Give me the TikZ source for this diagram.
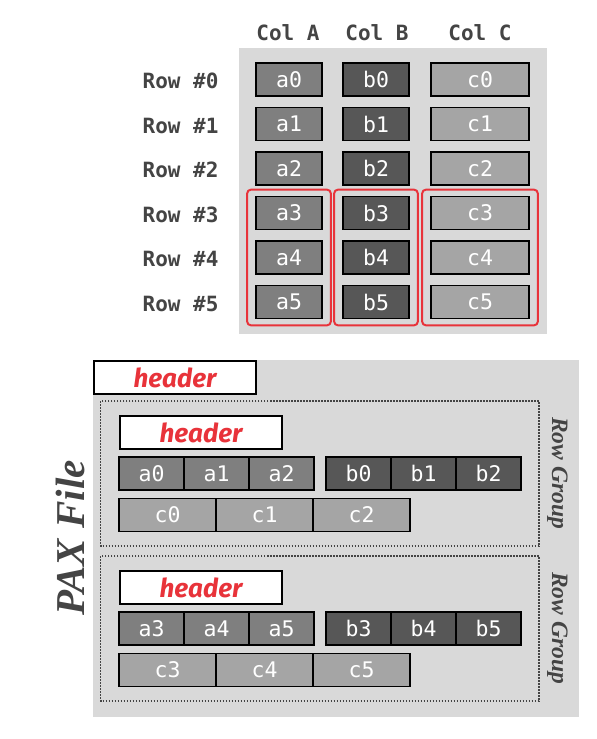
\documentclass[tikz,border=0pt]{standalone}
\usepackage{fontspec}
\setmainfont{Liberation Serif}
\newfontfamily\cellfont{DejaVu Sans Mono}
\newfontfamily\tagfont{Fira Sans}
\usepackage{tikz}
\definecolor{panelgray}{HTML}{D9D9D9}
\definecolor{colAgray}{HTML}{7F7F7F}
\definecolor{colBgray}{HTML}{575757}
\definecolor{colCgray}{HTML}{A5A5A5}
\definecolor{labelgray}{HTML}{444444}
\definecolor{hdrred}{HTML}{E8333A}
\tikzset{
  cellbox/.style={draw=black,line width=1.8pt,minimum height=33pt,inner sep=0pt,
    text=white,font=\cellfont\fontsize{21.5}{23}\selectfont},
  cellA/.style={cellbox,fill=colAgray,minimum width=65pt},
  cellB/.style={cellbox,fill=colBgray,minimum width=65pt},
  cellC/.style={cellbox,fill=colCgray,minimum width=97pt},
  rowlabel/.style={anchor=east,text=labelgray,font=\cellfont\bfseries\fontsize{21}{23}\selectfont},
  hdrbox/.style={draw=black,line width=2pt,fill=white,minimum width=162pt,minimum height=33pt,
    inner sep=0pt,text=hdrred,font=\tagfont\bfseries\itshape\fontsize{26}{28}\selectfont},
  redgroup/.style={draw=hdrred,line width=2pt,rounded corners=4pt},
  rowgroup/.style={draw=labelgray,line width=1.5pt,dash pattern=on 1.5pt off 1.5pt},
  sidelabel/.style={text=labelgray,font=\bfseries\itshape}
}
\begin{document}
\begin{tikzpicture}[x=1pt,y=-1pt]
  \useasboundingbox[fill=white] (0,0) rectangle (597,739);
  % Row layout
  \fill[panelgray] (239,48) rectangle (547,334);
  \node[text=labelgray,font=\cellfont\bfseries\fontsize{21}{23}\selectfont] (colA) at (288,33) {Col A};
  \node[text=labelgray,font=\cellfont\bfseries\fontsize{21}{23}\selectfont] (colB) at (377,33) {Col B};
  \node[text=labelgray,font=\cellfont\bfseries\fontsize{21}{23}\selectfont] (colC) at (480,33) {Col C};
  \node[rowlabel] (r0) at (222,81) {Row \#0};
  \node[rowlabel] (r1) at (222,125.5) {Row \#1};
  \node[rowlabel] (r2) at (222,170) {Row \#2};
  \node[rowlabel] (r3) at (222,214.5) {Row \#3};
  \node[rowlabel] (r4) at (222,259) {Row \#4};
  \node[rowlabel] (r5) at (222,303.5) {Row \#5};
  \node[cellA,minimum width=66pt] (a0) at (289,79.5) {a0};
  \node[cellA,minimum width=66pt] (a1) at (289,124) {a1};
  \node[cellA,minimum width=66pt] (a2) at (289,168.5) {a2};
  \node[cellA,minimum width=66pt] (a3) at (289,213) {a3};
  \node[cellA,minimum width=66pt] (a4) at (289,257.5) {a4};
  \node[cellA,minimum width=66pt] (a5) at (289,302) {a5};
  \node[cellB,minimum width=66pt] (b0) at (376,79.5) {b0};
  \node[cellB,minimum width=66pt] (b1) at (376,124) {b1};
  \node[cellB,minimum width=66pt] (b2) at (376,168.5) {b2};
  \node[cellB,minimum width=66pt] (b3) at (376,213) {b3};
  \node[cellB,minimum width=66pt] (b4) at (376,257.5) {b4};
  \node[cellB,minimum width=66pt] (b5) at (376,302) {b5};
  \node[cellC,minimum width=98pt] (c0) at (480,79.5) {c0};
  \node[cellC,minimum width=98pt] (c1) at (480,124) {c1};
  \node[cellC,minimum width=98pt] (c2) at (480,168.5) {c2};
  \node[cellC,minimum width=98pt] (c3) at (480,213) {c3};
  \node[cellC,minimum width=98pt] (c4) at (480,257.5) {c4};
  \node[cellC,minimum width=98pt] (c5) at (480,302) {c5};
  % Highlight rows 3-5
  \draw[redgroup] ([shift={(-8,-6)}]a3.north west) rectangle ([shift={(8,6)}]a5.south east);
  \draw[redgroup] ([shift={(-8,-6)}]b3.north west) rectangle ([shift={(8,6)}]b5.south east);
  \draw[redgroup] ([shift={(-8,-6)}]c3.north west) rectangle ([shift={(8,6)}]c5.south east);

  % PAX file
  \fill[panelgray] (93,360) rectangle (579,717);
  \node[hdrbox,anchor=north west] (fhdr) at (93,360) {header};
  \node[sidelabel,rotate=90,font=\bfseries\itshape\fontsize{41}{43}\selectfont] (pax) at (70,538) {PAX File};
  % Row group 1
  \draw[rowgroup] (100.5,401) rectangle (539,546);
  \node[hdrbox,anchor=north west] (g1hdr) at (119,415) {header};
  \node[cellA] (pa0) at (151.5,473.5) {a0};
  \node[cellA] (pa1) at (216.5,473.5) {a1};
  \node[cellA] (pa2) at (281.5,473.5) {a2};
  \node[cellB] (pb0) at (358.5,473.5) {b0};
  \node[cellB] (pb1) at (423.5,473.5) {b1};
  \node[cellB] (pb2) at (488.5,473.5) {b2};
  \node[cellC] (pc0) at (167.5,515) {c0};
  \node[cellC] (pc1) at (264.5,515) {c1};
  \node[cellC] (pc2) at (361.5,515) {c2};
  \node[sidelabel,rotate=-90,font=\bfseries\itshape\fontsize{23.5}{25}\selectfont] (rg1) at (557.5,473) {Row Group};
  % Row group 2
  \draw[rowgroup] (100.5,556) rectangle (539,701);
  \node[hdrbox,anchor=north west] (g2hdr) at (119,570) {header};
  \node[cellA] (pa3) at (151.5,628.5) {a3};
  \node[cellA] (pa4) at (216.5,628.5) {a4};
  \node[cellA] (pa5) at (281.5,628.5) {a5};
  \node[cellB] (pb3) at (358.5,628.5) {b3};
  \node[cellB] (pb4) at (423.5,628.5) {b4};
  \node[cellB] (pb5) at (488.5,628.5) {b5};
  \node[cellC] (pc3) at (167.5,670) {c3};
  \node[cellC] (pc4) at (264.5,670) {c4};
  \node[cellC] (pc5) at (361.5,670) {c5};
  \node[sidelabel,rotate=-90,font=\bfseries\itshape\fontsize{23.5}{25}\selectfont] (rg2) at (557.5,628) {Row Group};
\end{tikzpicture}
\end{document}
